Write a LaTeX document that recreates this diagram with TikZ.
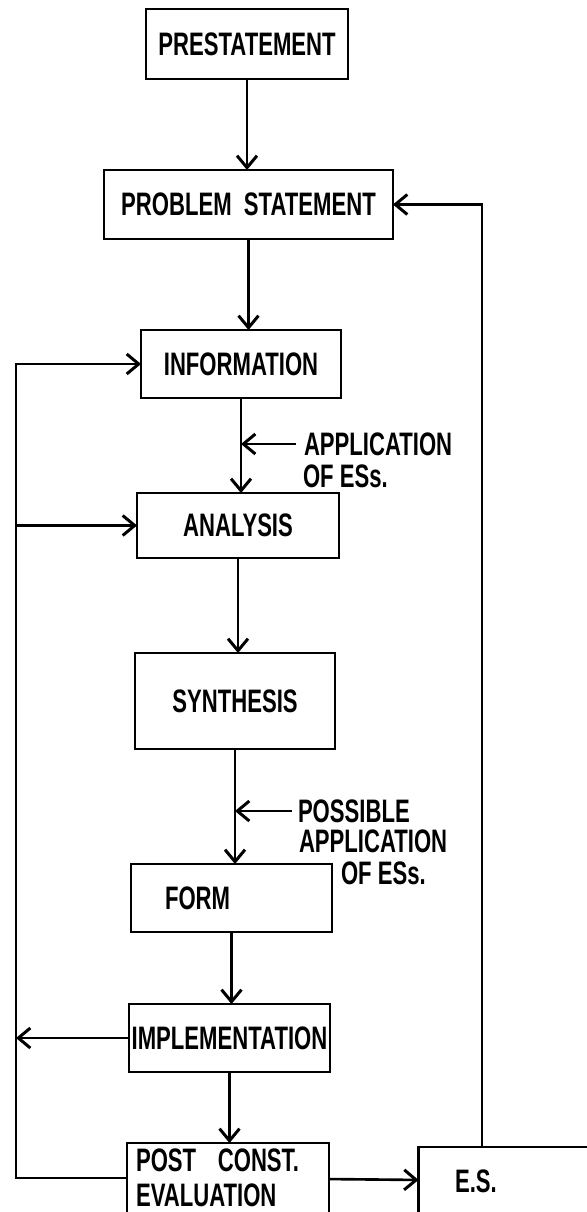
\documentclass[tikz,border=0pt]{standalone}
\usepackage{fontspec}
\setmainfont[FakeStretch=0.68]{Liberation Sans}
\usetikzlibrary{arrows.meta}

\begin{document}
\begin{tikzpicture}[x=0.02cm,y=-0.02cm,
      line width=1.5pt,
      every node/.style={font=\fontsize{18.5}{20}\selectfont\bfseries,inner sep=0pt,outer sep=0pt},
      stepbox/.style={draw,rectangle,minimum width=40.2mm,minimum height=13.6mm},
      esnote/.style={anchor=west},
      >={Straight Barb[length=2.4mm,width=4mm,line width=1.7pt]}]
  \useasboundingbox (0,0) rectangle (586,1212);
  \node[stepbox,minimum width=40.4mm,minimum height=14mm] at(247,44)(pre){PRESTATEMENT};
  \node[stepbox,minimum width=57.8mm,minimum height=13.8mm]
  at(248.5,204.5)(prob){PROBLEM\ \ STATEMENT};
  \node[stepbox,minimum width=40mm] at(241,364)(info){INFORMATION};
  \node[stepbox,minimum width=40.4mm,minimum height=13mm] at(238,525.5)(anal){ANALYSIS};
  \node[stepbox,minimum width=40mm,minimum height=19.2mm] at(235,701)(synt){SYNTHESIS};
  \node[stepbox,text width=26.6mm,align=left,inner xsep=6.8mm] at(231.5,898)(form){FORM};
  \node[stepbox] at(229.5,1038)(impl){IMPLEMENTATION};
  \node[stepbox,minimum width=40.4mm,minimum height=14mm,text width=36.8mm,
  align=left,inner xsep=1.8mm] at(228,1178)(post){POST\ \ CONST.\\EVALUATION};
  \node[stepbox,text width=25.6mm,align=left,inner xsep=3.4mm] at(519,1181)(es){E.S.};
  % notes on the side
  \node[esnote] at(304,444)(app){APPLICATION};
  \node[esnote] at(303,476)(appof){OF ESs.};
  \node[esnote] at(298,811)(poss){POSSIBLE};
  \node[esnote] at(299,841)(possapp){APPLICATION};
  \node[esnote] at(341,873)(possof){OF ESs.};
  % main flow
  \draw[->] (pre) -- (pre |- prob.north);
  \draw[->] (prob) -- (prob |- info.north);
  \draw[->] (info) -- (info |- anal.north);
  \draw[->] (anal) -- (anal |- synt.north);
  \draw[->] (synt) -- (synt |- form.north);
  \draw[->] (form) -- (form |- impl.north);
  \draw[->] (impl) -- (impl |- post.north);
  \draw[->] (post) -- (es);
  \draw[->,shorten <=1.6mm] (app.west) -- (app.west -| info.south);
  \draw[->,shorten <=1.2mm] (poss.west) -- (poss.west -| synt.south);
  % feedback loops
  \coordinate (lt) at(16,364);
  \coordinate (rt) at(482,0);
  \draw[->] (post.west) -| (lt) -- (info.west);
  \draw[->] (anal.west -| lt) -- (anal.west);
  \draw[->] (impl.west) -- (impl.west -| lt);
  \draw[->] (es.north -| rt) |- (prob.east);
\end{tikzpicture}
\end{document}
